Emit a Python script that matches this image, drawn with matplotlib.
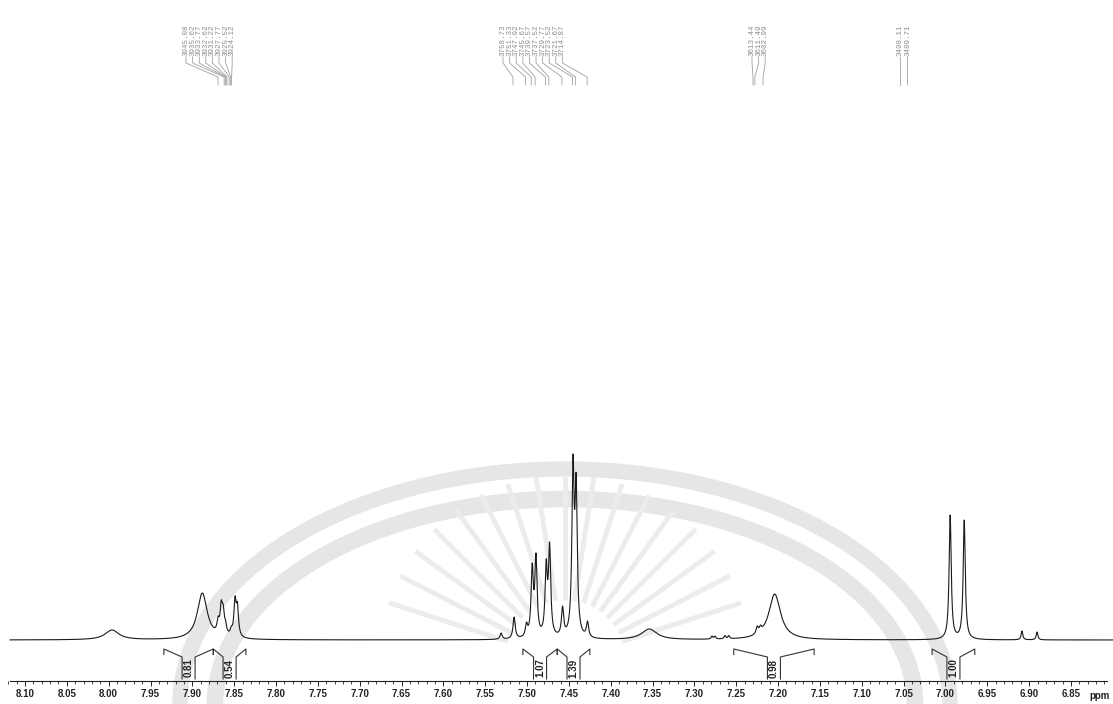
import numpy as np
import matplotlib
matplotlib.use("Agg")
import matplotlib.pyplot as plt
from matplotlib.patches import Ellipse
from matplotlib.ticker import MultipleLocator

# ---------------------------------------------------------------- data
SF = 500.13  # spectrometer frequency, MHz

# labelled lines (Hz), grouped as annotated
hz_group1 = [3945.08, 3935.62, 3933.77, 3932.62, 3931.22, 3927.77, 3925.52, 3924.12]
hz_group2 = [3758.73, 3751.33, 3747.92, 3745.67, 3739.57, 3737.52, 3729.77,
             3723.52, 3721.67, 3714.87]
hz_group3 = [3613.44, 3611.49, 3602.99]
hz_group4 = [3498.11, 3489.71]

# apparent line heights above baseline
h_group1 = [47, 24, 40, 36, 20, 14, 44, 38]
h_group2 = [23, 18, 77, 87, 81, 98, 34, 186, 167, 19]
h_group3 = [14, 15, 46]
h_group4 = [125, 120]

# half widths at half height (ppm)
w_group1 = [0.0072, 0.0016, 0.0016, 0.0016, 0.0016, 0.0016, 0.0016, 0.0016]
w_group2 = [0.0016] * 10
w_group3 = [0.0016, 0.0016, 0.0085]
w_group4 = [0.0015, 0.0015]

# unlabelled minor signals
minor_ppm = [7.996, 7.531, 7.354, 7.2790, 7.2755, 7.2635, 7.2590, 6.9086, 6.8906]
minor_h = [10, 7, 11, 4, 4, 4.5, 4.5, 9, 8]
minor_w = [0.010, 0.0015, 0.011, 0.0012, 0.0012, 0.0012, 0.0012, 0.0012, 0.0012]

# integrals: region limits (ppm) and values
integral_left = [7.934, 7.875, 7.505, 7.464, 7.253, 7.016]
integral_right = [7.875, 7.836, 7.464, 7.425, 7.157, 6.965]
integral_values = ["0.81", "0.54", "1.07", "1.39", "0.98", "1.00"]

# axis
tick_major = 0.05
tick_minor = 0.01
ppm_first_tick, ppm_last_tick = 8.10, 6.85

# ---------------------------------------------------------------- layout
W, H = 1113, 704
X0, PX_PER_PPM = 25.0, 836.8     # pixel column of 8.10 ppm and scale
BASE_Y = 640.0                   # baseline row


def px2ppm(xp):
    return ppm_first_tick - (xp - X0) / PX_PER_PPM


def row(yp):
    return BASE_Y - yp


fig = plt.figure(figsize=(W / 100, H / 100), dpi=100)

# faint background emblem
wm = fig.add_axes([0, 0, 1, 1])
wm.set_xlim(0, W)
wm.set_ylim(H, 0)
wm.axis("off")
wm_col = "#e6e6e6"
for (w_, h_, lw) in [(770, 470, 11), (700, 410, 12)]:
    wm.add_patch(Ellipse((565, 704), w_, h_, fill=False, ec=wm_col, lw=lw))
cx, cy = 565, 660
for ang in np.linspace(18, 162, 17):
    a = np.radians(ang)
    r0, r1 = 60, 185
    wm.plot([cx + r0 * np.cos(a), cx + r1 * np.cos(a)],
            [cy - r0 * np.sin(a), cy - r1 * np.sin(a)],
            color="#ececec", lw=3.5, solid_capstyle="butt")

ax = fig.add_axes([0, 0, 1, 1])
ax.patch.set_alpha(0)
ax.set_xlim(px2ppm(0), px2ppm(W))
ax.set_ylim(row(H), row(0))

# ---------------------------------------------------------------- spectrum
line_ppm = np.array([h / SF for g in (hz_group1, hz_group2, hz_group3, hz_group4) for h in g]
                    + minor_ppm)
line_h = np.array(h_group1 + h_group2 + h_group3 + h_group4 + minor_h, float)
line_w = np.array(w_group1 + w_group2 + w_group3 + w_group4 + minor_w, float)


def shapes(x, pos, wid):
    return 1.0 / (1.0 + ((x[:, None] - pos[None, :]) / wid[None, :]) ** 2)


# amplitudes so the summed curve reaches the stated heights at each line
M = shapes(line_ppm, line_ppm, line_w)
amp = np.clip(np.linalg.solve(M, line_h), 0, None)

x = np.linspace(px2ppm(10), px2ppm(W), 8000)
y = shapes(x, line_ppm, line_w) @ amp
ax.plot(x, y, color="#1a1a1a", lw=0.8)

# ---------------------------------------------------------------- integrals
ic = "#333333"
half = 6.5 / PX_PER_PPM
for lo, hi, val in zip(integral_left, integral_right, integral_values):
    mid = 0.5 * (lo + hi)
    top, ytick, ybox, ybot = row(649), row(654.5), row(657), row(679)
    ax.plot([lo, lo, mid + half, mid + half], [ytick, top, ybox, ybot], color=ic, lw=0.8)
    ax.plot([hi, hi, mid - half, mid - half], [ytick, top, ybox, ybot], color=ic, lw=0.8)
    ax.text(mid, row(668), val, rotation=90, ha="center", va="center",
            fontsize=7, fontweight="bold", family="Liberation Sans", color="#222222")

# ---------------------------------------------------------------- peak labels
# each group: label column start/step, and the header's own Hz->pixel scale
lab_col = "#8c8c8c"
groups = [
    (hz_group1, 186.0, 6.6, 218.0, 0.65),
    (hz_group2, 503.0, 6.6, 513.0, 1.69),
    (hz_group3, 752.0, 6.6, 753.0, 0.96),
    (hz_group4, 900.0, 7.5, 900.0, 0.90),
]
for hzs, x_start, step, foot0, foot_scale in groups:
    for i, hz in enumerate(hzs):
        lx = px2ppm(x_start + step * i)
        fx = px2ppm(foot0 + foot_scale * (hzs[0] - hz))
        ax.text(lx, row(56), f"{hz:.2f}", rotation=90, ha="center", va="bottom",
                fontsize=5.4, family="Liberation Mono", color=lab_col)
        ax.plot([lx, lx, fx, fx], [row(57), row(63), row(77), row(85)],
                color="#a0a0a0", lw=0.6)

# ---------------------------------------------------------------- axis
for s in ("left", "right", "top"):
    ax.spines[s].set_visible(False)
ax.spines["bottom"].set_position(("data", row(681)))
ax.spines["bottom"].set_bounds(px2ppm(10), px2ppm(1107))
ax.spines["bottom"].set_linewidth(0.8)
ax.spines["bottom"].set_color("#222222")
ax.set_yticks([])
ax.xaxis.set_minor_locator(MultipleLocator(tick_minor))
ax.tick_params(axis="x", which="major", direction="out", length=3.5, width=0.7,
               pad=2.5, labelsize=7, colors="#222222")
ax.tick_params(axis="x", which="minor", direction="out", length=1.8, width=0.6,
               colors="#222222")
ticks = np.round(np.arange(ppm_last_tick, ppm_first_tick + 1e-9, tick_major), 2)
ax.set_xticks(ticks)
ax.set_xticklabels([f"{t:.2f}" for t in ticks], fontweight="bold", family="Liberation Sans")
ax.text(px2ppm(1100), row(696), "ppm", ha="center", va="center", fontsize=7,
        fontweight="bold", family="Liberation Sans", color="#222222")

fig.savefig("out.png", dpi=100, facecolor="white")
